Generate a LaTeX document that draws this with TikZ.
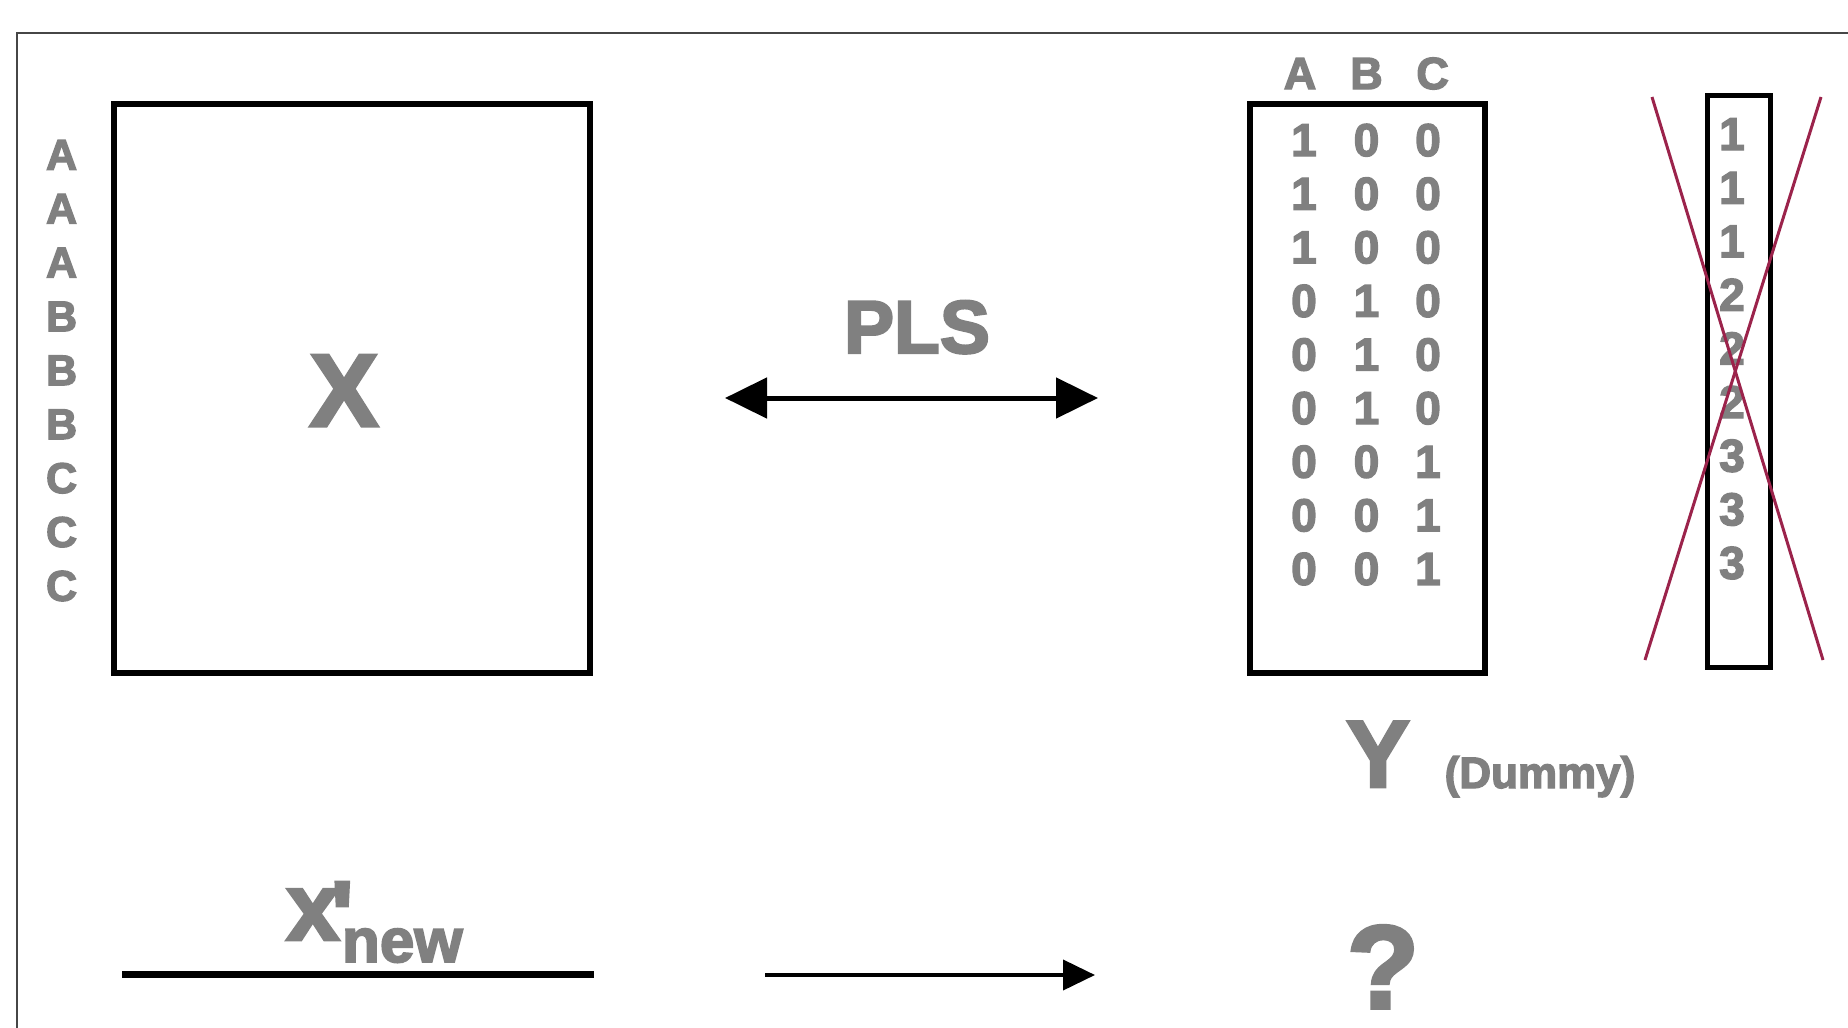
\documentclass[tikz,border=0pt]{standalone}
\usepackage{fontspec}
\setmainfont{Liberation Sans}
\newfontfamily\heavyfont{Liberation Sans Bold}[FakeBold=3]
\usetikzlibrary{arrows.meta}
\definecolor{labelgray}{RGB}{128,128,128}
\definecolor{framegray}{RGB}{70,70,70}
\definecolor{crossred}{RGB}{155,35,75}

\begin{document}
\begin{tikzpicture}[x=1pt,y=-1pt,
  lbl/.style={inner sep=0pt, anchor=base, text=labelgray,
              font=\heavyfont\fontsize{#1}{#1}\selectfont},
  matbox/.style={draw=black, line width=6pt, inner sep=0pt},
  thinarrow/.style={draw=black, line width=4pt, -{Triangle[length=32pt,width=30pt]}},
  twoway/.style={draw=black, line width=5pt,
                 {Triangle[length=42pt,width=40pt]}-{Triangle[length=42pt,width=40pt]}},
  crossline/.style={draw=crossred, line width=3pt}]

\useasboundingbox[fill=white] (0,0) rectangle (1848,1028);

% page frame (open towards the right and bottom)
\draw[framegray, line width=2pt] (17,1028) -- (17,33) -- (1848,33);

% predictor matrix X with its class labels
\node[matbox, minimum width=476pt, minimum height=569pt] (xbox) at (352,388.3) {};
\node[lbl=103] (xlab) at (344,426) {X};
\foreach \l [count=\i from 0] in {A,A,A,B,B,B,C,C,C}
  \node[lbl=43] (cls\i) at (61.6,169.6+53.9*\i) {\l};

% PLS link
\coordinate (pl) at (725,398);
\coordinate (pr) at (1098,398);
\draw[twoway] (pl) -- (pr);
\node[lbl=75] (pls) at (917,353) {PLS};

% dummy response matrix Y
\node[matbox, minimum width=235pt, minimum height=569pt] (ybox) at (1367.5,388.5) {};
\node[lbl=45] (hA) at (1300,89) {A};
\node[lbl=45] (hB) at (1366.5,89) {B};
\node[lbl=45] (hC) at (1432.6,89) {C};
\foreach \a/\b/\c [count=\i from 0] in {1/0/0,1/0/0,1/0/0,0/1/0,0/1/0,0/1/0,0/0/1,0/0/1,0/0/1}{
  \node[lbl=46] (ya\i) at (1304,156+53.6*\i) {\a};
  \node[lbl=46] (yb\i) at (1366.5,156+53.6*\i) {\b};
  \node[lbl=46] (yc\i) at (1428,156+53.6*\i) {\c};
}
\node[lbl=95] (ylab) at (1378,787) {Y};
\node[lbl=44] (dummy) at (1540,788) {(Dummy)};

% class-number vector, crossed out
\node[draw=black, line width=5pt, inner sep=0pt, minimum width=63pt, minimum height=572pt] (cbox) at (1739,381.5) {};
\foreach \n [count=\i from 0] in {1,1,1,2,2,2,3,3,3}
  \node[lbl=46] (cn\i) at (1732,150+53.6*\i) {\n};
\coordinate (c1a) at (1652,97);
\coordinate (c1b) at (1823,660);
\coordinate (c2a) at (1821,97);
\coordinate (c2b) at (1645,660);
\draw[crossline] (c1a) -- (c1b);
\draw[crossline] (c2a) -- (c2b);

% prediction for a new sample
\coordinate (nl) at (122,974);
\coordinate (nr) at (594,974);
\draw[black, line width=7pt] (nl) -- (nr);
\node[lbl=96, anchor=base west] (xnew) at (286,940)
  {x\kern-8.8pt\raisebox{-8pt}{'}\kern-11.6pt\fontsize{62}{62}\selectfont\raisebox{-22pt}{new}};
\coordinate (al) at (765,975);
\coordinate (ar) at (1095,975);
\draw[thinarrow] (al) -- (ar);
\node[lbl=118, text depth=0pt] (query) at (1383,1008) {?};
\end{tikzpicture}
\end{document}
